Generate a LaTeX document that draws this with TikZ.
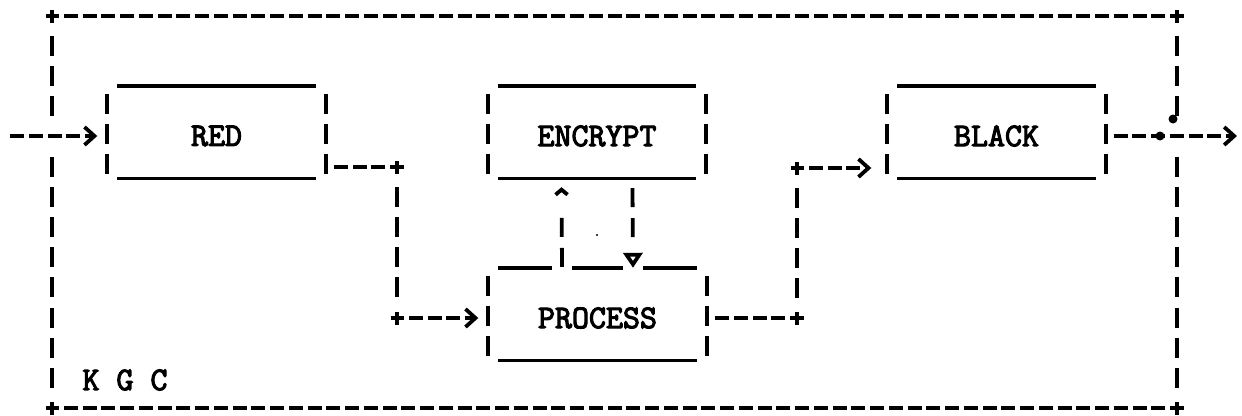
\documentclass[tikz,border=0pt]{standalone}
\usepackage{fontspec}
\newfontfamily\typewriter{Latin Modern Mono}[FakeBold=3.4]
\usetikzlibrary{arrows.meta}

\tikzset{
  ink/.style={line width=3.8pt, black},
  hline/.style={ink, dash pattern=on 14pt off 4.75pt, dash phase=7pt},
  vline/.style={ink, dash pattern=on 20pt off 10.15pt},
  sidebar/.style={ink, dash pattern=on 20pt off 10pt},
  uline/.style={ink, line width=3.4pt},
  label/.style={font=\typewriter\fontsize{33}{33}\selectfont, inner sep=0pt},
  blk/.style={label, minimum width=218pt, minimum height=84pt},
  gt/.style={-{Straight Barb[length=10pt,width=18pt]}},
  plusmark/.pic={\draw[ink] (-6.5,0) -- (6.5,0) (0,-6.5) -- (0,6.5);}
}

\begin{document}
\begin{tikzpicture}[x=1pt,y=-1pt]
\useasboundingbox (0,0) rectangle (1242,415);

% frame corners and connector bends
\coordinate (tl) at (52,16);
\coordinate (tr) at (1177,16);
\coordinate (bl) at (52,408);
\coordinate (br) at (1177,408);
\coordinate (j1) at (397,167);
\coordinate (j2) at (397,318);
\coordinate (j3) at (797,318);
\coordinate (j4) at (797,168);
\coordinate (in) at (10,136);
\coordinate (out) at (1237,136);
\coordinate (tap) at (1160,136);

% blocks
\node[blk] (red) at (216.5,136) {RED};
\node[blk] (encrypt) at (597,136) {ENCRYPT};
\node[blk] (black) at (996.5,136) {BLACK};
\node[blk] (process) at (597.5,318) {PROCESS};
\node[label] (kgc) at (125,380) {K G C};

% block outlines: underscores on top and bottom, bars at the sides
\foreach \b in {red,encrypt,black}{
  \draw[uline] ([xshift=10pt,yshift=8pt]\b.north west) -- ([xshift=-10pt,yshift=8pt]\b.north east);
}
\foreach \b in {red,encrypt,black,process}{
  \draw[uline] ([xshift=10pt]\b.south west) -- ([xshift=-10pt]\b.south east);
  \draw[sidebar] (\b.north west) -- (\b.south west);
  \draw[sidebar] (\b.north east) -- (\b.south east);
}
% top of PROCESS, broken where the feedback lines meet it
\draw[uline] ([xshift=10pt,yshift=8pt]process.north west) -- ([xshift=-45.5pt,yshift=8pt]process.north);
\draw[uline] ([xshift=-25.5pt,yshift=8pt]process.north) -- ([xshift=25.5pt,yshift=8pt]process.north);
\draw[uline] ([xshift=45.5pt,yshift=8pt]process.north) -- ([xshift=-10pt,yshift=8pt]process.north east);

% outer frame
\draw[hline] (tl) -- (tr);
\draw[hline] (bl) -- (br);
\draw[vline] ([yshift=-20pt]tl) -- (52,117);
\draw[vline] (52,156.8) -- ([yshift=20pt]bl);
\draw[vline] ([yshift=-20pt]tr) -- (1177,117);
\draw[vline] (1177,156.8) -- ([yshift=20pt]br);
\fill (1173,119) circle (4.5);
\foreach \c in {tl,tr,bl,br,j1,j2,j3,j4} \pic at (\c) {plusmark};

% signal path
\draw[hline, dash phase=0pt, gt, shorten >=10pt] (in) -- (red.west);
\draw[hline, shorten >=8pt] (j1) -- (red.east |- j1);
\draw[vline] ([yshift=-20pt]j1) -- ([yshift=20pt]j2);
\draw[hline, gt, shorten >=10pt] (j2) -- (process.west);
\draw[hline, shorten >=8pt] (j3) -- (process.east);
\draw[vline] ([yshift=-20pt]j4) -- ([yshift=20pt]j3);
\draw[hline, gt, shorten >=16pt] (j4) -- (black.west |- j4);
\draw[hline, dash phase=0pt, gt, shorten <=8pt] (black.east) -- (out);
\fill (tap) circle (4.5);

% exchange between PROCESS and ENCRYPT
\draw[ink, dash pattern=on 19pt off 11pt on 19pt off 40pt,
      -{Straight Barb[length=5pt,width=12pt]}]
  ([xshift=-35.5pt,yshift=9pt]process.north) -- ([xshift=-35.5pt,yshift=-9pt]encrypt.south);
\draw[ink, dash pattern=on 19pt off 11pt on 19pt off 30pt,
      -{Triangle[open,length=15pt,width=19pt]}]
  ([xshift=35.5pt,yshift=-10pt]encrypt.south) -- ([xshift=35.5pt,yshift=8pt]process.north);
\fill (597,235) circle (1.2);
\end{tikzpicture}
\end{document}
